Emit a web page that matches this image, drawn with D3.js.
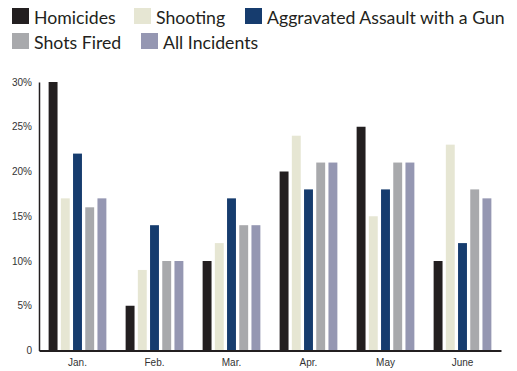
<!DOCTYPE html>
<html>
<head>
<meta charset="utf-8">
<script src="https://cdn.jsdelivr.net/npm/d3@7"></script>
<style>
  body { margin: 0; background: #fff; }
  svg { display: block; font-family: Lato, sans-serif; }
</style>
</head>
<body>
<svg id="chartSVG" width="517" height="371"></svg>
<script>
// data (percent)
var months = ["Jan.", "Feb.", "Mar.", "Apr.", "May", "June"];
var series = ["Homicides", "Shooting", "Aggravated Assault with a Gun", "Shots Fired", "All Incidents"];
var homicides = [30, 5, 10, 20, 25, 10];
var shooting = [17, 9, 12, 24, 15, 23];
var aggravated = [22, 14, 17, 18, 18, 12];
var shotsFired = [16, 10, 14, 21, 21, 18];
var allIncidents = [17, 10, 14, 21, 21, 17];
var yTicks = [0, 5, 10, 15, 20, 25, 30];
var colors = ["#231f20", "#e6e6d3", "#163c6e", "#a8a9ac", "#9597b2"];

var values = [homicides, shooting, aggravated, shotsFired, allIncidents];

var svg = d3.select("#chartSVG");

// x scales
var x0 = d3.scaleBand()
    .domain(months)
    .range([39, 501])
    .paddingInner(0.25)
    .paddingOuter(0.125);

var x1 = d3.scaleBand()
    .domain(series)
    .range([0, x0.bandwidth()])
    .paddingInner(0.27)
    .paddingOuter(0);

// y scale
var y = d3.scaleLinear()
    .domain([0, 30])
    .range([350.5, 82]);

// bars
var groups = svg.selectAll(".month")
    .data(months).enter()
    .append("g")
    .attr("class", "month")
    .attr("transform", function(m){ return "translate(" + x0(m) + ",0)"; });

groups.selectAll("rect")
    .data(function(m, i){
        return series.map(function(s, j){ return {s: s, v: values[j][i], c: colors[j]}; });
    }).enter()
    .append("rect")
    .attr("x", function(d){ return x1(d.s); })
    .attr("width", x1.bandwidth())
    .attr("y", function(d){ return y(d.v); })
    .attr("height", function(d){ return y(0) - y(d.v); })
    .attr("fill", function(d){ return d.c; });

// y axis
var yAxis = svg.append("g")
    .attr("transform", "translate(39,0)")
    .call(d3.axisLeft(y).tickValues(yTicks).tickSize(0).tickPadding(7)
        .tickFormat(function(d){ return d === 0 ? "0" : d + "%"; }));
yAxis.select(".domain").attr("stroke", "#231f20").attr("stroke-width", 1.5);
yAxis.selectAll("text").attr("font-size", 10).attr("fill", "#333");

// x axis
var xAxis = svg.append("g")
    .attr("transform", "translate(0," + y(0) + ")")
    .call(d3.axisBottom(x0).tickSize(0).tickPadding(8));
xAxis.select(".domain").attr("stroke", "#231f20").attr("stroke-width", 2);
xAxis.selectAll("text").attr("font-size", 10).attr("fill", "#333");

// legend
var legendPos = [[12, 8], [134, 8], [245, 8], [12, 33], [141, 33]];
var legend = svg.selectAll(".legend")
    .data(series).enter()
    .append("g")
    .attr("class", "legend")
    .attr("transform", function(d, i){ return "translate(" + legendPos[i][0] + "," + legendPos[i][1] + ")"; });

legend.append("rect")
    .attr("width", 17)
    .attr("height", 16)
    .attr("fill", function(d, i){ return colors[i]; });

legend.append("text")
    .attr("x", 22)
    .attr("y", 16)
    .attr("font-size", 17.7)
    .attr("fill", "#231f20")
    .text(function(d){ return d; });
</script>
</body>
</html>
